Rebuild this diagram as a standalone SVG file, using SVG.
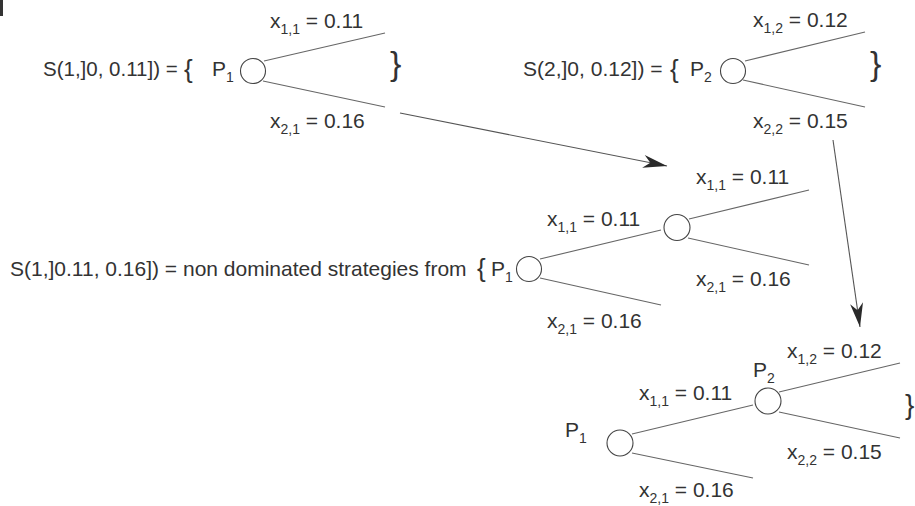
<svg xmlns="http://www.w3.org/2000/svg" width="915" height="506" viewBox="0 0 915 506">
<defs>
<style>
text{font-family:"Liberation Sans",Arial,Helvetica,sans-serif;font-size:21px;fill:#333}
.sub{font-size:14px}
.br{font-size:26px}
.bbr{font-size:34px}
.node{fill:#fff;stroke:#444;stroke-width:1.1}
.edge{stroke:#666;stroke-width:1.1;fill:none}
.arrow{stroke:#555;stroke-width:1.1;fill:none;marker-end:url(#ah)}
</style>
<marker id="ah" markerUnits="userSpaceOnUse" viewBox="-25 -8 26 16" refX="0" refY="0" markerWidth="26" markerHeight="16" orient="auto">
<path d="M0,0 L-24,-6.5 L-17,0 L-24,6.5 Z" fill="#2a2a2a"/>
</marker>
</defs>
<rect x="0" y="0" width="3" height="16" fill="#333"/>

<g id="tree1">
<text x="43" y="76" style="font-size:20.5px">S(1,]0, 0.11]) =</text>
<text class="br" x="184" y="78">{</text>
<text x="212" y="76">P<tspan class="sub" dy="6">1</tspan></text>
<text class="bbr" x="390" y="75">}</text>
<text x="270" y="28">x<tspan class="sub" dy="6">1,1</tspan><tspan dy="-6"> = 0.11</tspan></text>
<text x="270" y="128">x<tspan class="sub" dy="6">2,1</tspan><tspan dy="-6"> = 0.16</tspan></text>
</g>
<g id="node-t1-p1"><circle class="node" cx="253" cy="71" r="12.5"/></g>

<g id="tree2">
<text x="523" y="76">S(2,]0, 0.12]) =</text>
<text class="br" x="670" y="78">{</text>
<text x="690" y="76">P<tspan class="sub" dy="6">2</tspan></text>
<text class="bbr" x="870" y="75">}</text>
<text x="753" y="27">x<tspan class="sub" dy="6">1,2</tspan><tspan dy="-6"> = 0.12</tspan></text>
<text x="753" y="128">x<tspan class="sub" dy="6">2,2</tspan><tspan dy="-6"> = 0.15</tspan></text>
</g>
<g id="node-t2-p2"><circle class="node" cx="733" cy="71" r="12.5"/></g>

<g id="tree3">
<text x="10" y="276">S(1,]0.11, 0.16]) = non dominated strategies from</text>
<text class="br" x="477" y="277">{</text>
<text x="491" y="276">P<tspan class="sub" dy="6">1</tspan></text>
<text x="547" y="226">x<tspan class="sub" dy="6">1,1</tspan><tspan dy="-6"> = 0.11</tspan></text>
<text x="547" y="328">x<tspan class="sub" dy="6">2,1</tspan><tspan dy="-6"> = 0.16</tspan></text>
<text x="696" y="184">x<tspan class="sub" dy="6">1,1</tspan><tspan dy="-6"> = 0.11</tspan></text>
<text x="696" y="286">x<tspan class="sub" dy="6">2,1</tspan><tspan dy="-6"> = 0.16</tspan></text>
</g>
<g id="node-t3-p1"><circle class="node" cx="529" cy="269" r="12.5"/></g>
<g id="node-t3-p1b"><circle class="node" cx="677" cy="227.5" r="13"/></g>

<g id="tree4">
<text x="565" y="437">P<tspan class="sub" dy="6">1</tspan></text>
<text x="753" y="377">P<tspan class="sub" dy="6">2</tspan></text>
<text class="br" x="905" y="414" style="font-size:28px">}</text>
<text x="639" y="400">x<tspan class="sub" dy="6">1,1</tspan><tspan dy="-6"> = 0.11</tspan></text>
<text x="639" y="497">x<tspan class="sub" dy="6">2,1</tspan><tspan dy="-6"> = 0.16</tspan></text>
<text x="787" y="358">x<tspan class="sub" dy="6">1,2</tspan><tspan dy="-6"> = 0.12</tspan></text>
<text x="787" y="459">x<tspan class="sub" dy="6">2,2</tspan><tspan dy="-6"> = 0.15</tspan></text>
</g>
<g id="node-t4-p1"><circle class="node" cx="620" cy="443" r="13"/></g>
<g id="node-t4-p2"><circle class="node" cx="768" cy="401" r="13"/></g>

<g id="connectors">
<g id="branches">
<line class="edge" x1="264" y1="61" x2="385" y2="33"/>
<line class="edge" x1="263" y1="81" x2="385" y2="107"/>
<line class="edge" x1="745" y1="61" x2="865" y2="32"/>
<line class="edge" x1="743" y1="80" x2="865" y2="107"/>
<line class="edge" x1="540" y1="259" x2="661" y2="230"/>
<line class="edge" x1="540" y1="278" x2="661" y2="305"/>
<line class="edge" x1="689" y1="219" x2="809" y2="190"/>
<line class="edge" x1="688" y1="238" x2="809" y2="265"/>
<line class="edge" x1="632" y1="434" x2="753" y2="405"/>
<line class="edge" x1="632" y1="453" x2="753" y2="478"/>
<line class="edge" x1="779" y1="392" x2="900" y2="363"/>
<line class="edge" x1="779" y1="412" x2="900" y2="438"/>
</g>
<line class="arrow" x1="400" y1="113" x2="667" y2="166"/>
<line class="arrow" x1="833" y1="140" x2="860" y2="327"/>
</g>
</svg>
